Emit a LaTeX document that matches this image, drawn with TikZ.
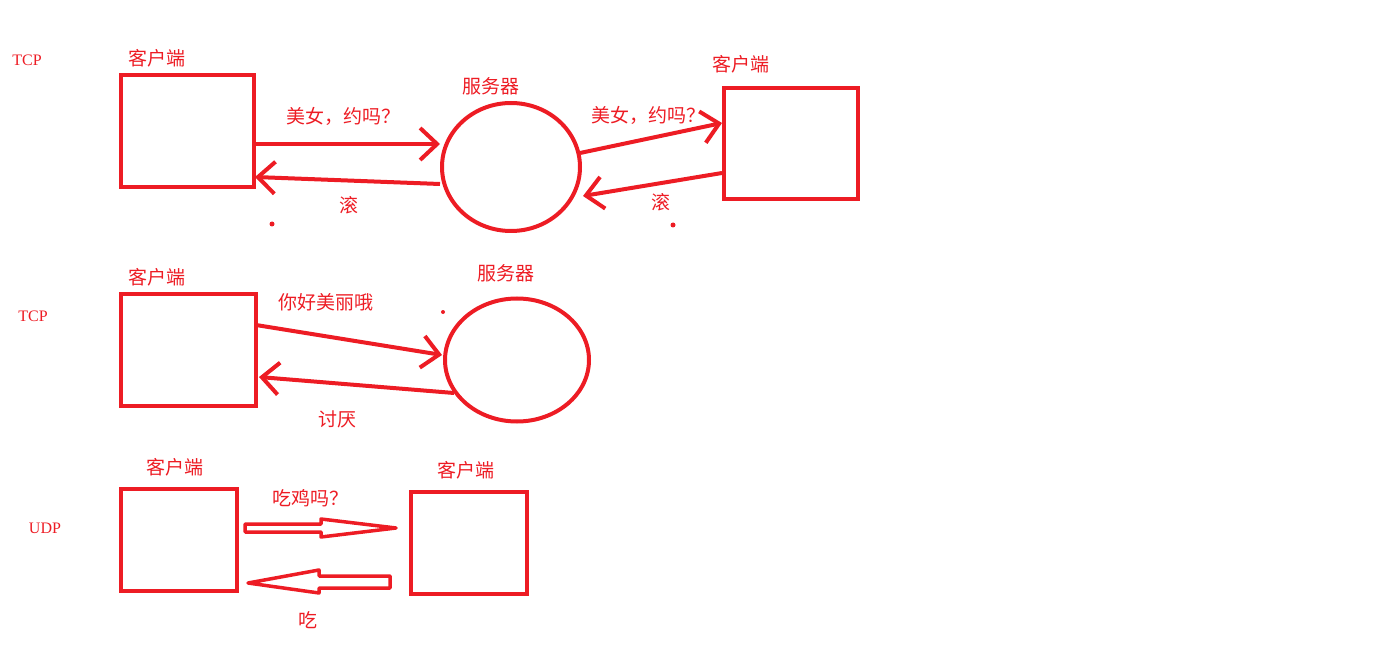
\documentclass[tikz,border=0pt]{standalone}
\usepackage{fontspec}
\setmainfont{Liberation Serif}
\newfontfamily\cjk{Noto Sans CJK SC}
\usetikzlibrary{arrows.meta,shapes.geometric}
\definecolor{pr}{HTML}{ED1C24}
\tikzset{
  box/.style={draw=pr,line width=4pt,rectangle,inner sep=0pt},
  oval/.style={draw=pr,line width=4pt,ellipse,inner sep=0pt},
  lbl/.style={text=pr,font=\cjk\fontsize{19}{19}\selectfont,inner sep=0pt},
  proto/.style={text=pr,font=\fontsize{16}{16}\selectfont,inner sep=0pt},
  conn/.style={draw=pr,line width=4pt,-{Straight Barb[length=17pt,width=32pt,line width=4pt]}},
  hollow/.style={draw=pr,line width=3.5pt,line join=round},
  dotm/.style={fill=pr,circle,inner sep=0pt,minimum size=5pt}
}
\begin{document}
\begin{tikzpicture}[x=1pt,y=-1pt]
\useasboundingbox (0,0) rectangle (1385,663);
% Row 1
\node[proto] (tcp1) at (27,60) {TCP};
\node[box,minimum width=133pt,minimum height=112pt] (c1) at (187.5,131) {};
\node[lbl] (c1l) at (157,58) {客户端};
\node[oval,minimum width=138pt,minimum height=128pt] (s1) at (511,167) {};
\node[lbl] (s1l) at (491,86) {服务器};
\node[box,minimum width=134pt,minimum height=111pt] (c2) at (791,143.5) {};
\node[lbl] (c2l) at (741,64) {客户端};
\coordinate (a1s) at (256,144); \coordinate (a1e) at (440,144);
\coordinate (b1s) at (440,184); \coordinate (b1e) at (255,177);
\coordinate (a2s) at (580,153); \coordinate (a2e) at (722,123);
\coordinate (b2s) at (722,173); \coordinate (b2e) at (583,196);
\draw[conn] (a1s) -- (a1e);
\draw[conn] (b1s) -- (b1e);
\draw[conn] (a2s) -- (a2e);
\draw[conn] (b2s) -- (b2e);
\node[lbl] (m1) at (343,116) {美女，约吗？};
\node[lbl] (r1) at (349,205) {滚};
\node[lbl] (m2) at (648,115) {美女，约吗？};
\node[lbl] (r2) at (661,202) {滚};
\node[dotm] (d1) at (272,224) {};
\node[dotm] (d2) at (673,225) {};
% Row 2
\node[proto] (tcp2) at (33,316) {TCP};
\node[box,minimum width=135pt,minimum height=112pt] (c3) at (188.5,350) {};
\node[lbl] (c3l) at (157,277) {客户端};
\node[oval,minimum width=144pt,minimum height=123pt] (s2) at (517,360) {};
\node[lbl] (s2l) at (506,273) {服务器};
\coordinate (a3s) at (256,325); \coordinate (a3e) at (442,355);
\coordinate (b3s) at (454,393); \coordinate (b3e) at (259,377);
\draw[conn] (a3s) -- (a3e);
\draw[conn] (b3s) -- (b3e);
\node[lbl] (m3) at (326,302) {你好美丽哦};
\node[lbl] (r3) at (337,419) {讨厌};
\node[dotm,minimum size=4pt] (d3) at (443,312) {};
% Row 3
\node[proto] (udp) at (45,528) {UDP};
\node[box,minimum width=116pt,minimum height=102pt] (c4) at (179,540) {};
\node[lbl] (c4l) at (175,467) {客户端};
\node[box,minimum width=116pt,minimum height=102pt] (c5) at (469,543) {};
\node[lbl] (c5l) at (466,470) {客户端};
\coordinate (u1s) at (245,528); \coordinate (u1e) at (396,528);
\coordinate (u2s) at (390,582); \coordinate (u2e) at (248,583);
\draw[hollow] (u1s |- 0,524) -- (321,524) -- (321,519) -- (u1e) -- (321,537) -- (321,532) -- (u1s |- 0,532) -- cycle;
\draw[hollow] (u2s |- 0,576) -- (319,576) -- (319,570) -- (u2e) -- (319,593) -- (319,588) -- (u2s |- 0,588) -- cycle;
\node[lbl] (m4) at (310,498) {吃鸡吗？};
\node[lbl] (r4) at (308,620) {吃};
\end{tikzpicture}
\end{document}
